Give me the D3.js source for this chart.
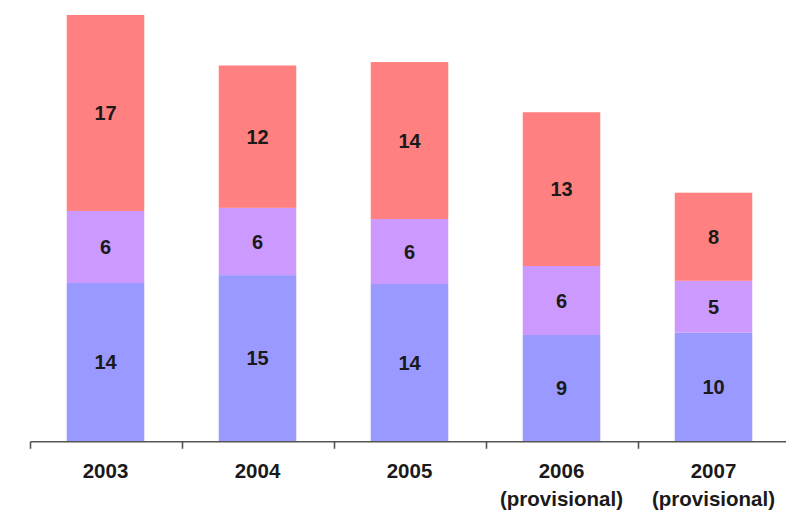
<!DOCTYPE html>
<html><head><meta charset="utf-8">
<script src="https://cdn.jsdelivr.net/npm/d3@7"></script>
<style>html,body{margin:0;padding:0;background:#fff;}svg{display:block;}</style>
</head><body>
<svg id="chart" width="786" height="511"></svg>
<script>
const categories = ["2003", "2004", "2005", "2006", "2007"];
const subLabels = ["", "", "", "(provisional)", "(provisional)"];
const seriesNames = ["bottom", "middle", "top"];
const bottomValues = [13.86, 14.55, 13.77, 9.3, 9.5];
const middleValues = [6.32, 5.9, 5.7, 6.05, 4.55];
const topValues = [17.19, 12.49, 13.77, 13.49, 7.73];
const seriesColors = ["#9999FF", "#CC99FF", "#FF8080"];

const rows = categories.map((c, i) => ({cat: c, bottom: bottomValues[i], middle: middleValues[i], top: topValues[i]}));
const stack = d3.stack().keys(seriesNames)(rows);

const svg = d3.select("#chart");
const baseY = 441;
const x = d3.scaleBand().domain(categories).range([30.5, 790.5]).paddingInner(0.49).paddingOuter(0.245);
const y = d3.scaleLinear().domain([0, 38]).range([baseY, baseY - 38 * 11.4]);
const fmt = d3.format(".0f");
const font = "'Liberation Sans', Arial, sans-serif";

const layers = svg.selectAll("g.layer").data(stack).join("g").attr("class", "layer")
  .attr("fill", (d, i) => seriesColors[i]);
layers.selectAll("rect").data(d => d).join("rect")
  .attr("x", d => x(d.data.cat) - 1)
  .attr("width", x.bandwidth())
  .attr("y", d => y(d[1]))
  .attr("height", d => y(d[0]) - y(d[1]));

layers.each(function(layer) {
  d3.select(this).selectAll("text").data(layer).join("text")
    .attr("x", d => x(d.data.cat) - 1 + x.bandwidth() / 2)
    .attr("y", d => (y(d[0]) + y(d[1])) / 2)
    .attr("dy", "0.36em")
    .attr("text-anchor", "middle")
    .attr("fill", "#1a1a1a")
    .style("font-family", font)
    .style("font-weight", "bold")
    .style("font-size", "20px")
    .text(d => fmt(d[1] - d[0]));
});

// axis
const axisG = svg.append("g").attr("transform", `translate(0,${baseY + 0.8})`);
axisG.append("line").attr("x1", 30.5).attr("x2", 786).attr("y1", 0).attr("y2", 0)
  .attr("stroke", "#555").attr("stroke-width", 1.6);
const step = x.step();
const boundaries = d3.range(categories.length + 1).map(i => x(categories[0]) - x.paddingOuter() * step + i * step);
axisG.selectAll("line.tick").data(boundaries).join("line").attr("class", "tick")
  .attr("x1", d => d).attr("x2", d => d)
  .attr("y1", 0).attr("y2", 7)
  .attr("stroke", "#555").attr("stroke-width", 1.6);

axisG.selectAll("text.year").data(categories).join("text").attr("class", "year")
  .attr("x", d => x(d) - 1 + x.bandwidth() / 2)
  .attr("y", 36)
  .attr("text-anchor", "middle")
  .attr("fill", "#1a1a1a")
  .style("font-family", font)
  .style("font-weight", "bold")
  .style("font-size", "20.5px")
  .text(d => d);
axisG.selectAll("text.sub").data(categories).join("text").attr("class", "sub")
  .attr("x", d => x(d) - 1 + x.bandwidth() / 2)
  .attr("y", 64)
  .attr("text-anchor", "middle")
  .attr("fill", "#1a1a1a")
  .style("font-family", font)
  .style("font-weight", "bold")
  .style("font-size", "20.5px")
  .text((d, i) => subLabels[i]);
</script>
</body></html>
